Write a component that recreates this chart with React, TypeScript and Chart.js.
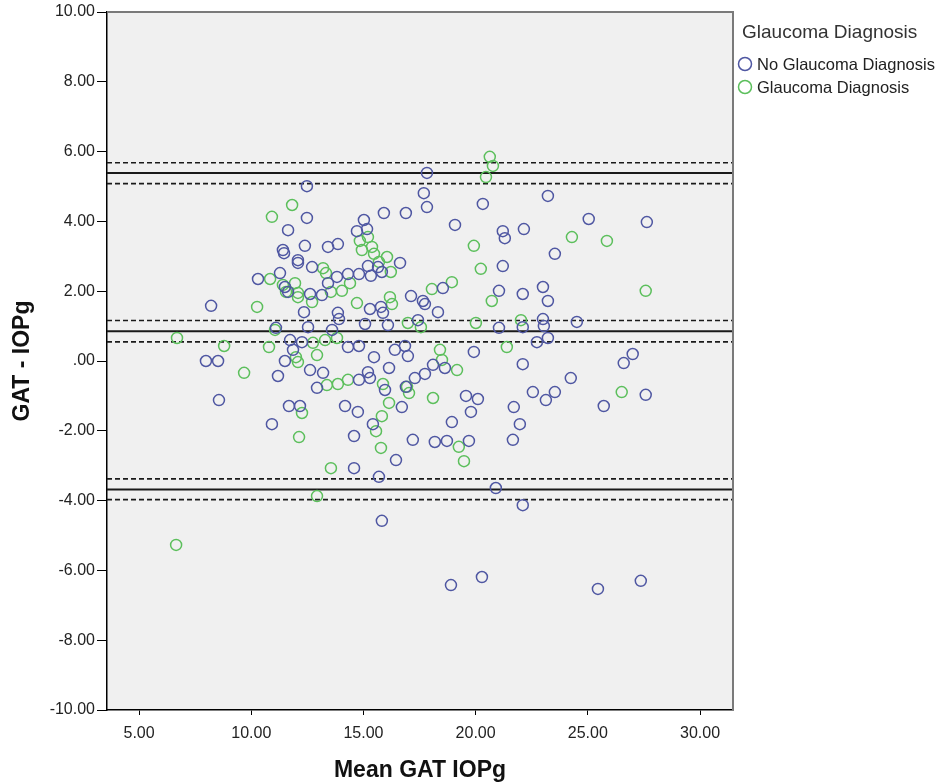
import React, { useEffect, useRef } from 'react';
import { Chart, registerables } from 'chart.js';
Chart.register(...registerables);

const FONT = '"Liberation Sans", Arial, sans-serif';

// Series: No Glaucoma Diagnosis (x = Mean GAT IOPg, y = GAT - IOPg)
const noGlaucomaX = [17.83, 12.48, 12.48, 11.64, 17.69, 17.83, 16.89, 15.91, 20.32, 23.22, 25.04, 27.63, 19.08, 15.02, 14.71, 15.16, 11.41, 11.46, 12.39, 13.42, 13.86, 12.08, 12.08, 12.71, 16.63, 15.2, 15.65, 10.3, 11.28, 13.82, 14.31, 14.8, 15.33, 15.82, 13.42, 11.5, 11.64, 12.62, 13.15, 21.21, 21.3, 22.15, 23.53, 21.21, 18.54, 17.12, 17.65, 17.74, 18.32, 21.04, 22.1, 23.0, 23.22, 12.35, 13.86, 13.91, 15.29, 15.78, 15.87, 15.07, 16.09, 11.1, 12.53, 13.6, 17.43, 21.04, 22.1, 23.0, 23.04, 24.51, 22.73, 23.22, 11.73, 12.26, 14.31, 14.8, 15.47, 16.4, 16.85, 16.98, 19.92, 11.86, 11.5, 8.21, 7.98, 8.52, 8.56, 10.92, 11.19, 12.62, 13.2, 12.93, 14.8, 15.2, 15.29, 16.14, 15.96, 16.71, 11.68, 12.17, 14.18, 14.75, 15.42, 14.58, 16.45, 14.58, 15.69, 15.82, 18.1, 18.63, 17.74, 17.29, 16.89, 19.57, 20.1, 19.79, 18.94, 17.2, 18.18, 18.72, 19.7, 22.1, 22.55, 23.13, 23.53, 24.24, 21.7, 21.97, 21.66, 20.9, 22.1, 27.0, 26.6, 27.58, 25.71, 18.9, 20.28, 25.45, 27.36];
const noGlaucomaY = [5.39, 5.01, 4.1, 3.75, 4.81, 4.41, 4.24, 4.24, 4.5, 4.73, 4.07, 3.98, 3.9, 4.04, 3.72, 3.78, 3.18, 3.09, 3.3, 3.27, 3.35, 2.89, 2.81, 2.69, 2.81, 2.72, 2.69, 2.35, 2.52, 2.41, 2.49, 2.49, 2.44, 2.55, 2.23, 2.12, 1.98, 1.92, 1.89, 3.72, 3.52, 3.78, 3.07, 2.72, 2.09, 1.86, 1.72, 1.63, 1.4, 2.01, 1.92, 2.12, 1.72, 1.4, 1.38, 1.2, 1.49, 1.55, 1.38, 1.06, 1.03, 0.95, 0.97, 0.89, 1.17, 0.95, 0.97, 1.2, 1.0, 1.12, 0.54, 0.66, 0.6, 0.54, 0.4, 0.43, 0.11, 0.32, 0.43, 0.14, 0.26, 0.32, 0.0, 1.58, 0.0, 0.0, -1.12, -1.81, -0.43, -0.26, -0.34, -0.77, -0.54, -0.32, -0.49, -0.2, -0.83, -1.32, -1.29, -1.29, -1.29, -1.46, -1.81, -2.15, -2.84, -3.07, -3.32, -4.58, -0.11, -0.2, -0.37, -0.49, -0.74, -1.0, -1.09, -1.46, -1.75, -2.26, -2.32, -2.29, -2.29, -0.09, -0.89, -1.12, -0.89, -0.49, -1.32, -1.81, -2.26, -3.64, -4.13, 0.2, -0.06, -0.97, -1.29, -6.42, -6.19, -6.53, -6.3];

// Series: Glaucoma Diagnosis
const glaucomaX = [20.63, 20.77, 20.46, 11.82, 10.92, 15.2, 14.84, 15.38, 14.93, 15.47, 16.05, 15.69, 16.22, 13.2, 13.33, 10.84, 14.4, 11.95, 11.41, 11.55, 12.08, 12.08, 12.71, 13.55, 14.04, 14.71, 16.18, 16.27, 10.26, 19.92, 24.29, 25.85, 27.58, 20.23, 18.94, 18.05, 20.72, 16.98, 17.56, 20.01, 22.02, 11.06, 10.79, 13.29, 13.82, 12.75, 12.93, 11.99, 12.08, 18.41, 21.39, 18.5, 19.17, 13.37, 13.86, 14.31, 15.87, 16.14, 16.94, 17.03, 18.1, 26.51, 12.26, 12.13, 15.82, 15.56, 15.78, 19.25, 19.48, 13.55, 12.93, 6.65, 6.69, 8.79, 9.68];
const glaucomaY = [5.85, 5.59, 5.27, 4.47, 4.13, 3.55, 3.44, 3.27, 3.18, 3.07, 2.98, 2.84, 2.55, 2.66, 2.52, 2.35, 2.23, 2.23, 2.18, 1.98, 1.95, 1.83, 1.69, 1.98, 2.01, 1.66, 1.83, 1.63, 1.55, 3.3, 3.55, 3.44, 2.01, 2.64, 2.26, 2.06, 1.72, 1.09, 0.97, 1.09, 1.17, 0.89, 0.4, 0.6, 0.66, 0.52, 0.17, 0.11, -0.03, 0.32, 0.4, 0.03, -0.26, -0.69, -0.66, -0.54, -0.66, -1.2, -0.74, -0.92, -1.06, -0.89, -1.49, -2.18, -1.58, -2.01, -2.49, -2.46, -2.87, -3.07, -3.87, -5.27, 0.66, 0.43, -0.34];

// Bland-Altman reference lines: mean difference and limits of agreement (solid), their CIs (dashed)
const solidLines = [5.39, 0.85, -3.68];
const dashedLines = [5.68, 5.08, 1.16, 0.55, -3.38, -3.97];

const seriesNames = ['No Glaucoma Diagnosis', 'Glaucoma Diagnosis'];
const legendTitle = 'Glaucoma Diagnosis';
const xTitle = 'Mean GAT IOPg';
const yTitle = 'GAT - IOPg';
const BLUE = '#4f57a2';
const GREEN = '#5cbf5c';

const toPoints = (xs: number[], ys: number[]) => xs.map((x, i) => ({ x, y: ys[i] }));

const fmt = (v: number) => (v === 0 ? '.00' : Number(v).toFixed(2));

export default function App() {
  const ref = useRef<HTMLCanvasElement>(null);
  useEffect(() => {
    const bgPlugin = {
      id: 'bg',
      beforeDraw(chart: any) {
        const { ctx, chartArea: a } = chart;
        ctx.save();
        ctx.fillStyle = '#ffffff';
        ctx.fillRect(0, 0, chart.width, chart.height);
        ctx.fillStyle = '#f0f0f0';
        ctx.fillRect(a.left, a.top, a.right - a.left, a.bottom - a.top);
        ctx.restore();
      },
    };
    const linesPlugin = {
      id: 'refLines',
      beforeDatasetsDraw(chart: any) {
        const { ctx, chartArea: a, scales } = chart;
        ctx.save();
        ctx.beginPath();
        ctx.rect(a.left, a.top, a.right - a.left, a.bottom - a.top);
        ctx.clip();
        ctx.strokeStyle = '#1a1a1a';
        ctx.lineWidth = 2;
        solidLines.forEach((v) => {
          const y = scales.y.getPixelForValue(v);
          ctx.beginPath();
          ctx.moveTo(a.left, y);
          ctx.lineTo(a.right, y);
          ctx.stroke();
        });
        ctx.setLineDash([5, 3]);
        ctx.lineWidth = 1.7;
        dashedLines.forEach((v) => {
          const y = scales.y.getPixelForValue(v);
          ctx.beginPath();
          ctx.moveTo(a.left, y);
          ctx.lineTo(a.right, y);
          ctx.stroke();
        });
        ctx.restore();
      },
      afterDraw(chart: any) {
        const { ctx, chartArea: a } = chart;
        ctx.save();
        ctx.strokeStyle = '#7a7a7a';
        ctx.lineWidth = 2;
        ctx.beginPath();
        ctx.moveTo(a.left, a.top);
        ctx.lineTo(a.right, a.top);
        ctx.lineTo(a.right, a.bottom);
        ctx.stroke();
        // legend
        const lx = a.right + 9;
        ctx.fillStyle = '#333';
        ctx.textBaseline = 'middle';
        ctx.textAlign = 'left';
        ctx.font = `19px ${FONT}`;
        ctx.fillText(legendTitle, lx, 33);
        const colors = [BLUE, GREEN];
        seriesNames.forEach((name, i) => {
          const cy = 64 + i * 23;
          ctx.beginPath();
          ctx.strokeStyle = colors[i];
          ctx.lineWidth = 1.5;
          ctx.arc(lx + 3, cy, 6.5, 0, Math.PI * 2);
          ctx.stroke();
          ctx.fillStyle = '#222';
          ctx.font = `16.5px ${FONT}`;
          ctx.fillText(name, lx + 15, cy + 1);
        });
        ctx.restore();
      },
    };

    const chart = new Chart(ref.current!, {
      type: 'scatter',
      data: {
        datasets: [
          {
            label: seriesNames[0],
            data: toPoints(noGlaucomaX, noGlaucomaY),
            borderColor: BLUE,
            backgroundColor: 'rgba(0,0,0,0)',
            pointRadius: 5.5,
            borderWidth: 1.5,
          },
          {
            label: seriesNames[1],
            data: toPoints(glaucomaX, glaucomaY),
            borderColor: GREEN,
            backgroundColor: 'rgba(0,0,0,0)',
            pointRadius: 5.5,
            borderWidth: 1.5,
          },
        ],
      },
      options: {
        responsive: false,
        animation: false,
        layout: { padding: { top: 12, right: 211, left: 0, bottom: 0 } },
        plugins: { legend: { display: false }, tooltip: { enabled: false } },
        scales: {
          x: {
            type: 'linear',
            min: 3.57,
            max: 31.47,
            afterFit: (s: any) => {
              s.height = 74;
            },
            ticks: {
              stepSize: 5,
              includeBounds: false,
              callback: (v: any) => fmt(Number(v)),
              font: { family: FONT, size: 16 },
              color: '#222',
              padding: 9,
              maxRotation: 0,
            },
            grid: { drawOnChartArea: false, drawTicks: true, tickLength: 5, color: '#000' },
            border: { display: true, color: '#000', width: 1.5 },
            title: {
              display: true,
              text: xTitle,
              font: { family: FONT, size: 23, weight: 'bold' },
              color: '#111',
              padding: { top: 0, bottom: 0 },
            },
          },
          y: {
            type: 'linear',
            min: -10,
            max: 10,
            afterFit: (s: any) => {
              s.width = 107;
            },
            ticks: {
              stepSize: 2,
              includeBounds: false,
              callback: (v: any) => fmt(Number(v)),
              font: { family: FONT, size: 16 },
              color: '#222',
              padding: 2,
            },
            grid: { drawOnChartArea: false, drawTicks: true, tickLength: 10, color: '#000' },
            border: { display: true, color: '#000', width: 1.5 },
            title: {
              display: true,
              text: yTitle,
              font: { family: FONT, size: 23, weight: 'bold' },
              color: '#111',
              padding: { top: 9, bottom: 0 },
            },
          },
        },
      },
      plugins: [bgPlugin, linesPlugin],
    } as any);
    return () => chart.destroy();
  }, []);
  return (
    <div style={{ position: 'absolute', left: 0, top: 0, width: 944, height: 784, background: '#fff' }}>
      <canvas ref={ref} width={944} height={784} style={{ display: 'block' }} />
    </div>
  );
}
